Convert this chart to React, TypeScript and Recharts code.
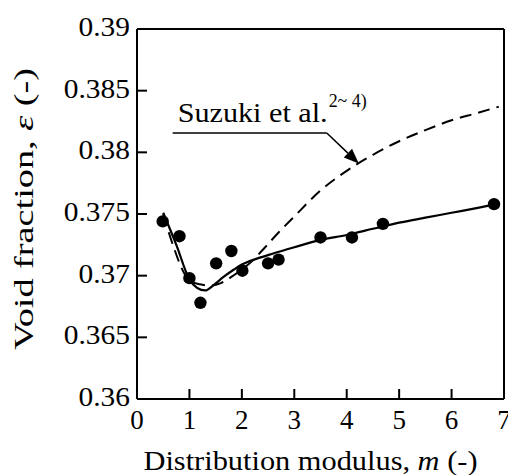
import React from "react";
import { ComposedChart, Line, Scatter, XAxis, YAxis, ReferenceLine } from "recharts";

// measured void fraction (dots)
const measuredM = [0.49, 0.81, 1.0, 1.21, 1.51, 1.8, 2.01, 2.5, 2.7, 3.5, 4.1, 4.69, 6.81];
const measuredVoid = [0.3744, 0.3732, 0.3698, 0.3678, 0.371, 0.372, 0.3704, 0.371, 0.3713, 0.3731, 0.3731, 0.3742, 0.3758];

// calculated curve (solid)
const calcM = [0.5, 0.75, 1.0, 1.15, 1.3, 1.45, 1.65, 1.85, 2.0, 2.3, 2.6, 3.0, 3.5, 4.0, 4.5, 5.0, 5.5, 6.0, 6.5, 6.85];
const calcVoid = [0.3751, 0.3725, 0.3697, 0.369, 0.3688, 0.3692, 0.3699, 0.3705, 0.3709, 0.3714, 0.3718, 0.3723, 0.3729, 0.3733, 0.3738, 0.3743, 0.3747, 0.3751, 0.3755, 0.3758];

// Suzuki et al. (dashed)
const suzukiM = [0.5, 0.7, 0.9, 1.05, 1.2, 1.4, 1.6, 1.8, 2.0, 2.2, 2.4, 2.7, 3.0, 3.5, 4.0, 4.5, 5.0, 5.5, 6.0, 6.5, 6.9];
const suzukiVoid = [0.375, 0.3723, 0.3702, 0.3695, 0.3693, 0.3692, 0.3694, 0.3699, 0.3705, 0.3712, 0.3721, 0.3735, 0.3748, 0.3769, 0.3785, 0.3798, 0.3809, 0.3818, 0.3826, 0.3832, 0.3837];

const xTicks = [0, 1, 2, 3, 4, 5, 6, 7];
const yTicks = [0.36, 0.365, 0.37, 0.375, 0.38, 0.385, 0.39];
const yTickLabels = ["0.36", "0.365", "0.37", "0.375", "0.38", "0.385", "0.39"];

// annotation anchors in data units
const noteStart = { x: 0.68, y: 0.38157 };
const noteBend = { x: 3.62, y: 0.38157 };
const noteTip = { x: 4.23, y: 0.3791 };

const toPoints = (ms: number[], vs: number[]) => ms.map((m, i) => ({ m, v: vs[i] }));

const measured = toPoints(measuredM, measuredVoid);
const calc = toPoints(calcM, calcVoid);
const suzuki = toPoints(suzukiM, suzukiVoid);

const FONT = '"Liberation Serif", "DejaVu Serif", "Times New Roman", serif';
const txt = { fontFamily: FONT };
const axisLine = { stroke: "#000", strokeWidth: 2 };
const tickLine = { stroke: "#000", strokeWidth: 2 };

// the scan is a bit wider than Times, so stretch the numbers slightly
const labelWidth = (s: string, size: number) =>
  s.split("").reduce((w, c) => w + (c === "." ? 0.25 : 0.5), 0) * size * 1.09;

const XTick = (props: any) => (
  <text x={props.x} y={props.y} textAnchor="middle" dominantBaseline="central" style={txt} fontSize={27} fill="#000">
    {props.payload.value}
  </text>
);

const YTick = (props: any) => {
  const idx = yTicks.indexOf(props.payload.value);
  const s = idx >= 0 ? yTickLabels[idx] : String(props.payload.value);
  return (
    <text
      x={props.x}
      y={props.y - 2}
      textAnchor="end"
      dominantBaseline="central"
      style={txt}
      fontSize={27}
      fill="#000"
      textLength={labelWidth(s, 27)}
      lengthAdjust="spacingAndGlyphs"
    >
      {s}
    </text>
  );
};

const XTitle = (props: any) => {
  const vb = props.viewBox;
  return (
    <text x={vb.x + vb.width / 2 - 10} y={470} textAnchor="middle" style={txt} fontSize={27} fill="#000" textLength={334} lengthAdjust="spacingAndGlyphs">
      Distribution modulus, <tspan fontStyle="italic">m</tspan> (-)
    </text>
  );
};

const YTitle = () => (
  <text x={33} y={209} transform="rotate(-90, 33, 209)" textAnchor="middle" style={txt} fontSize={27} fill="#000" textLength={282} lengthAdjust="spacingAndGlyphs">
    Void fraction, <tspan fontStyle="italic">ε</tspan> (-)
  </text>
);

const NoteUnderline = (props: any) => {
  const { x1, y1, x2, y2 } = props;
  return (
    <g>
      <line x1={x1} y1={y1} x2={x2} y2={y2} stroke="#000" strokeWidth={1.5} />
      <text x={x1 + 5} y={y1 - 11} style={txt} fontSize={27} fill="#000" textLength={150} lengthAdjust="spacingAndGlyphs">
        Suzuki et al.
      </text>
      <text x={x1 + 156} y={y1 - 26} style={txt} fontSize={19} fill="#000" textLength={38} lengthAdjust="spacingAndGlyphs">
        2~ 4)
      </text>
    </g>
  );
};

const NoteArrow = (props: any) => {
  const { x1, y1, x2, y2 } = props;
  const dx = x2 - x1;
  const dy = y2 - y1;
  const len = Math.sqrt(dx * dx + dy * dy) || 1;
  const ux = dx / len;
  const uy = dy / len;
  const head = 15;
  const half = 6;
  const bx = x2 - ux * head;
  const by = y2 - uy * head;
  const pts = `${x2},${y2} ${bx - uy * half},${by + ux * half} ${bx + uy * half},${by - ux * half}`;
  return (
    <g>
      <line x1={x1} y1={y1} x2={bx} y2={by} stroke="#000" strokeWidth={1.5} />
      <polygon points={pts} fill="#000" />
    </g>
  );
};

export default function App() {
  return (
    <div style={{ position: "absolute", left: 0, top: 0, background: "#fff", fontFamily: FONT }}>
      <ComposedChart width={508} height={475} margin={{ top: 28, right: 3, bottom: 36, left: 0 }} style={txt}>
        <XAxis
          xAxisId="bottom"
          dataKey="m"
          type="number"
          domain={[0, 7]}
          ticks={xTicks}
          orientation="bottom"
          height={40}
          axisLine={axisLine}
          tickLine={tickLine}
          tickSize={-10}
          tickMargin={31}
          tick={<XTick />}
          interval={0}
          label={<XTitle />}
        />
        <XAxis
          xAxisId="top"
          dataKey="m"
          type="number"
          domain={[0, 7]}
          ticks={xTicks}
          orientation="top"
          height={1}
          axisLine={axisLine}
          tickLine={tickLine}
          tickSize={-10}
          tick={false}
          interval={0}
        />
        <YAxis
          yAxisId="left"
          type="number"
          domain={[0.36, 0.39]}
          ticks={yTicks}
          width={137}
          axisLine={axisLine}
          tickLine={tickLine}
          tickSize={-10}
          tickMargin={17}
          tick={<YTick />}
          interval={0}
          label={<YTitle />}
        />
        <YAxis
          yAxisId="right"
          orientation="right"
          type="number"
          domain={[0.36, 0.39]}
          ticks={yTicks}
          width={1}
          axisLine={axisLine}
          tickLine={tickLine}
          tickSize={-10}
          tick={false}
          interval={0}
        />
        <Line
          xAxisId="bottom"
          yAxisId="left"
          data={suzuki}
          dataKey="v"
          type="monotone"
          stroke="#000"
          strokeWidth={2}
          strokeDasharray="12 7"
          dot={false}
          activeDot={false}
          isAnimationActive={false}
        />
        <Line
          xAxisId="bottom"
          yAxisId="left"
          data={calc}
          dataKey="v"
          type="monotone"
          stroke="#000"
          strokeWidth={2.2}
          dot={false}
          activeDot={false}
          isAnimationActive={false}
        />
        <Scatter
          xAxisId="bottom"
          yAxisId="left"
          data={measured}
          dataKey="v"
          fill="#000"
          shape={(p: any) => <circle cx={p.cx} cy={p.cy} r={6.2} fill="#000" />}
          isAnimationActive={false}
        />
        <ReferenceLine
          xAxisId="bottom"
          yAxisId="left"
          segment={[noteStart, noteBend]}
          ifOverflow="visible"
          shape={<NoteUnderline />}
        />
        <ReferenceLine
          xAxisId="bottom"
          yAxisId="left"
          segment={[noteBend, noteTip]}
          ifOverflow="visible"
          shape={<NoteArrow />}
        />
      </ComposedChart>
    </div>
  );
}
